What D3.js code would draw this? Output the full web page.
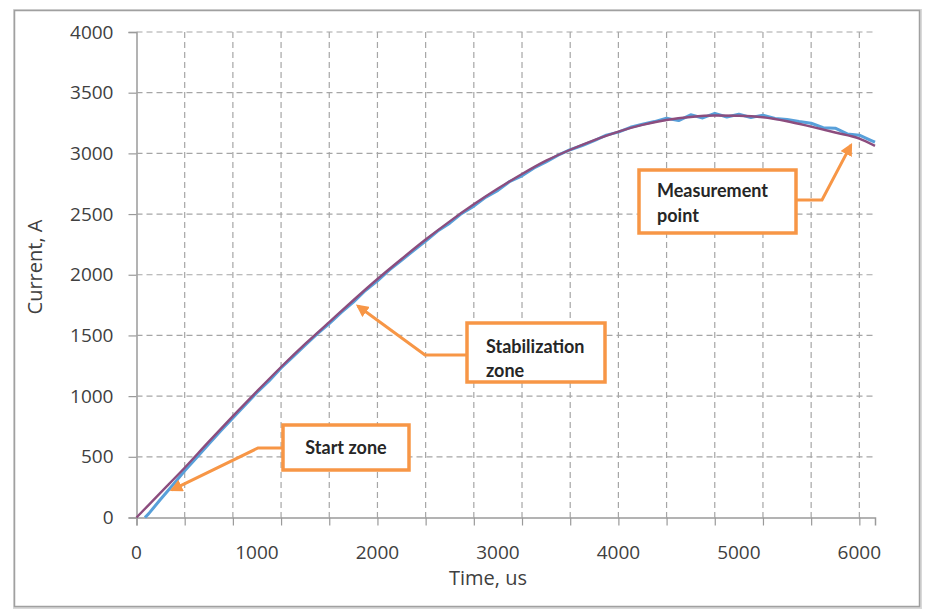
<!DOCTYPE html>
<html>
<head>
<meta charset="utf-8">
<script src="https://cdn.jsdelivr.net/npm/d3@7"></script>
<style>
  html, body { margin: 0; padding: 0; background: #ffffff; }
  svg { display: block; }
</style>
</head>
<body>
<svg id="chart" width="938" height="615"></svg>
<script>
// ---- data ----
const modelTime = [0, 200, 400, 600, 800, 1000, 1200, 1400, 1600, 1800, 2000, 2200, 2400, 2600, 2800, 3000,
  3200, 3400, 3600, 3800, 4000, 4200, 4400, 4600, 4800, 5000, 5200, 5400, 5600, 5800, 6000, 6130];
const modelCurrent = [0, 205, 410, 625, 835, 1040, 1240, 1430, 1610, 1790, 1965, 2130, 2290, 2440, 2580, 2710,
  2830, 2940, 3030, 3110, 3180, 3235, 3275, 3300, 3312, 3310, 3298, 3265, 3220, 3172, 3122, 3062];

const measTime = [70, 100, 200, 300, 400, 500, 600, 700, 800, 900, 1000, 1100, 1200, 1300, 1400, 1500, 1600,
  1700, 1800, 1900, 2000, 2100, 2200, 2300, 2400, 2500, 2600, 2700, 2800, 2900, 3000, 3100, 3200, 3300,
  3400, 3500, 3600, 3700, 3800, 3900, 4000, 4100, 4200, 4300, 4400, 4500, 4600, 4700, 4800, 4900, 5000,
  5100, 5200, 5300, 5400, 5500, 5600, 5700, 5800, 5900, 6000, 6100, 6130];
const measCurrent = [0, 30, 150, 265, 385, 495, 605, 715, 820, 925, 1030, 1125, 1232, 1325, 1420, 1512, 1598,
  1690, 1775, 1870, 1950, 2040, 2118, 2200, 2278, 2360, 2425, 2505, 2565, 2640, 2695, 2770, 2815, 2880,
  2930, 2985, 3030, 3065, 3105, 3150, 3175, 3215, 3240, 3262, 3290, 3270, 3318, 3292, 3330, 3300, 3322,
  3296, 3315, 3288, 3280, 3262, 3248, 3212, 3208, 3160, 3150, 3105, 3092];

const yTicks = [0, 500, 1000, 1500, 2000, 2500, 3000, 3500, 4000];
const xTickLabels = [0, 1000, 2000, 3000, 4000, 5000, 6000];
const xGrid = [400, 800, 1200, 1600, 2000, 2400, 2800, 3200, 3600, 4000, 4400, 4800, 5200, 5600, 6000];

const annTexts = [["Start zone"], ["Stabilization", "zone"], ["Measurement", "point"]];
const annTipTime = [295, 1838, 5930];
const annTipCurrent = [227, 1742, 3068];

// ---- layout ----
const svg = d3.select("#chart");
const x = d3.scaleLinear().domain([0, 6130]).range([136.5, 875]);
const y = d3.scaleLinear().domain([0, 4000]).range([517.5, 32]);

const gridColor = "#a6a6a6";
const axisColor = "#9a9a9a";
const textColor = "#404040";
const orange = "#f79646";

// outer frame
svg.append("rect").attr("x", 15).attr("y", 11).attr("width", 905).attr("height", 596)
  .attr("fill", "none").attr("stroke", "#d9d9d9").attr("stroke-width", 4);
svg.append("rect").attr("x", 14.5).attr("y", 10.5).attr("width", 905).attr("height", 596)
  .attr("fill", "#ffffff").attr("stroke", "#a0a0a0").attr("stroke-width", 1.5);

// y axis with ticks
const yAxis = d3.axisLeft(y).tickValues(yTicks).tickSize(8).tickPadding(15).tickFormat(d3.format("d"));
const gy = svg.append("g").attr("transform", `translate(${x(0)},0)`).call(yAxis);
gy.select(".domain").attr("stroke", axisColor).attr("stroke-width", 1.5);
gy.selectAll(".tick line").attr("stroke", axisColor).attr("stroke-width", 1.2);
gy.selectAll(".tick text").attr("fill", textColor).attr("font-family", "Open Sans, sans-serif")
  .attr("font-size", 19);

// horizontal grid (dashed)
svg.append("g").selectAll("line").data(yTicks.filter(d => d > 0)).join("line")
  .attr("x1", x(0)).attr("x2", x(6130))
  .attr("y1", d => y(d)).attr("y2", d => y(d))
  .attr("stroke", gridColor).attr("stroke-width", 1.2).attr("stroke-dasharray", "6,4");

// vertical grid
svg.append("g").selectAll("line").data(xGrid).join("line")
  .attr("x1", d => x(d)).attr("x2", d => x(d))
  .attr("y1", y(4000)).attr("y2", y(0))
  .attr("stroke", gridColor).attr("stroke-width", 1.2).attr("stroke-dasharray", "6,4");

// x axis: ticks every 400, labels every 1000
const xAxisTicks = d3.axisBottom(x).tickValues([0].concat(xGrid)).tickSize(8).tickFormat("");
const gx = svg.append("g").attr("transform", `translate(0,${y(0)})`).call(xAxisTicks);
gx.select(".domain").attr("stroke", axisColor).attr("stroke-width", 1.5);
gx.selectAll(".tick line").attr("stroke", axisColor).attr("stroke-width", 1.2);

svg.append("g").selectAll("text").data(xTickLabels).join("text")
  .attr("x", d => x(d)).attr("y", 559)
  .attr("text-anchor", "middle").attr("fill", textColor)
  .attr("font-family", "Open Sans, sans-serif").attr("font-size", 19)
  .text(d => d);

// axis titles
svg.append("text").attr("x", 488).attr("y", 585).attr("text-anchor", "middle")
  .attr("fill", textColor).attr("font-family", "Open Sans, sans-serif").attr("font-size", 20)
  .text("Time, us");
svg.append("text").attr("transform", "translate(42,267) rotate(-90)").attr("text-anchor", "middle")
  .attr("fill", textColor).attr("font-family", "Open Sans, sans-serif").attr("font-size", 20)
  .text("Current, A");

// series
const line = d3.line().x(d => x(d[0])).y(d => y(d[1]));
svg.append("path").datum(measTime.map((t, i) => [t, measCurrent[i]]))
  .attr("d", line).attr("fill", "none").attr("stroke", "#58a0da").attr("stroke-width", 3)
  .attr("stroke-linejoin", "round");
svg.append("path").datum(modelTime.map((t, i) => [t, modelCurrent[i]]))
  .attr("d", d3.line().curve(d3.curveMonotoneX).x(d => x(d[0])).y(d => y(d[1])))
  .attr("fill", "none").attr("stroke", "#8c4d7e").attr("stroke-width", 2.4)
  .attr("stroke-linejoin", "round");

// annotations
const defs = svg.append("defs");
defs.append("marker").attr("id", "arrow").attr("viewBox", "0 0 10 10")
  .attr("refX", 8).attr("refY", 5).attr("markerWidth", 4.2).attr("markerHeight", 4.2)
  .attr("orient", "auto").attr("markerUnits", "strokeWidth")
  .append("path").attr("d", "M0,0 L10,5 L0,10 Z").attr("fill", orange);

const boxes = [
  {x: 283, y: 425, w: 126, h: 45, elbow: [258, 448], from: [283, 448], anchor: "middle", tx: 346, ty: [454]},
  {x: 467, y: 323, w: 138, h: 59, elbow: [425, 355], from: [467, 355], anchor: "start", tx: 486, ty: [353, 377]},
  {x: 639, y: 170, w: 157, h: 63, elbow: [822, 200], from: [796, 200], anchor: "start", tx: 657, ty: [197, 222]}
];

boxes.forEach((b, i) => {
  const tip = [x(annTipTime[i]), y(annTipCurrent[i])];
  svg.append("path")
    .attr("d", `M${b.from[0]},${b.from[1]} L${b.elbow[0]},${b.elbow[1]} L${tip[0]},${tip[1]}`)
    .attr("fill", "none").attr("stroke", orange).attr("stroke-width", 3)
    .attr("marker-end", "url(#arrow)");
  svg.append("rect").attr("x", b.x).attr("y", b.y).attr("width", b.w).attr("height", b.h)
    .attr("fill", "#ffffff").attr("stroke", orange).attr("stroke-width", 3.5);
  annTexts[i].forEach((t, j) => {
    svg.append("text").attr("x", b.tx).attr("y", b.ty[j]).attr("text-anchor", b.anchor)
      .attr("fill", "#262626").attr("font-family", "Lato, sans-serif").attr("font-weight", "bold")
      .attr("font-size", 18).text(t);
  });
});
</script>
</body>
</html>
